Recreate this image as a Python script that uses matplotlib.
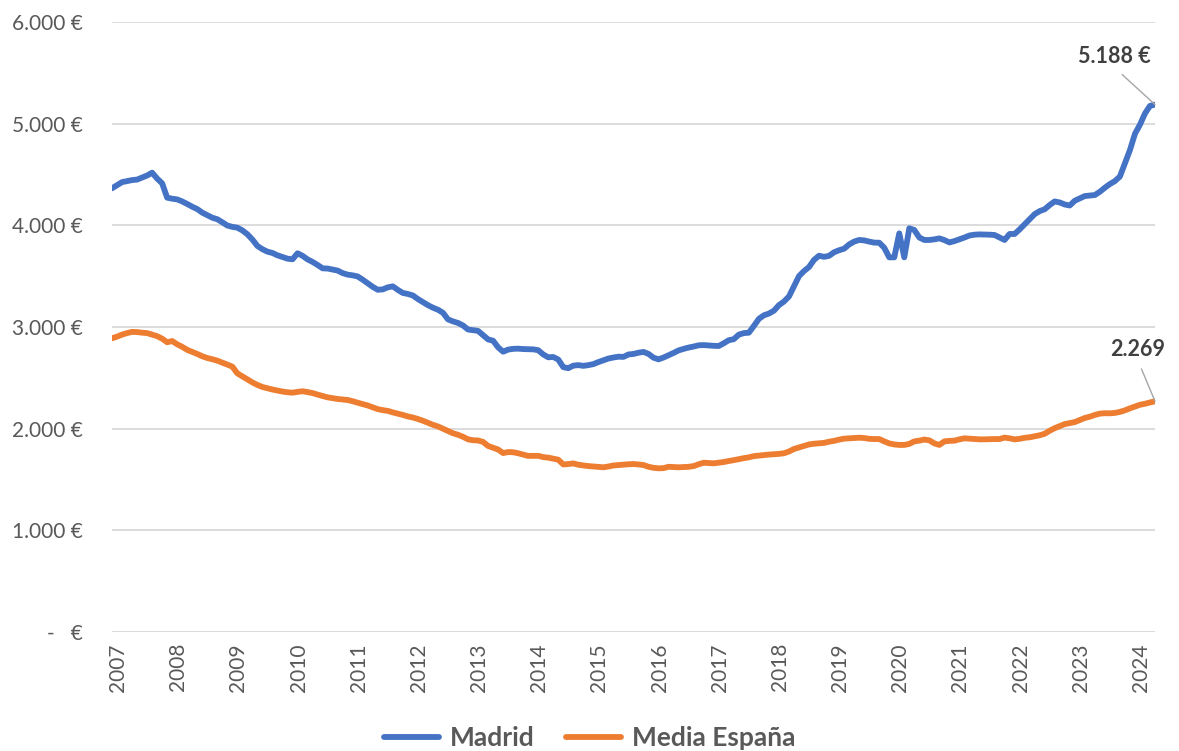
import matplotlib.pyplot as plt
from matplotlib.transforms import ScaledTranslation

plt.rcParams['font.family'] = ['Lato', 'DejaVu Sans']

# monthly series, Jan 2007 .. May 2024 (EUR/m2)
years = [str(y) for y in range(2007, 2025)]

madrid = [
    4364, 4395, 4425, 4435, 4445, 4450, 4470, 4490, 4518, 4460, 4413, 4272,  # 2007
    4262, 4255, 4235, 4210, 4183, 4160, 4125, 4100, 4075, 4060, 4030, 3998,  # 2008
    3985, 3977, 3950, 3912, 3860, 3797, 3765, 3741, 3728, 3705, 3688, 3672,  # 2009
    3666, 3725, 3700, 3665, 3640, 3610, 3577, 3575, 3565, 3555, 3530, 3515,  # 2010
    3508, 3497, 3465, 3430, 3395, 3366, 3370, 3390, 3400, 3365, 3335, 3325,  # 2011
    3310, 3275, 3245, 3215, 3190, 3170, 3140, 3075, 3055, 3040, 3015, 2975,  # 2012
    2968, 2962, 2920, 2878, 2865, 2800, 2757, 2778, 2785, 2787, 2783, 2781,  # 2013
    2780, 2772, 2730, 2702, 2705, 2680, 2605, 2595, 2620, 2625, 2618, 2625,  # 2014
    2635, 2655, 2672, 2690, 2700, 2708, 2706, 2730, 2735, 2747, 2755, 2735,  # 2015
    2698, 2682, 2700, 2722, 2745, 2770, 2785, 2798, 2808, 2820, 2822, 2818,  # 2016
    2815, 2813, 2840, 2870, 2880, 2925, 2940, 2944, 3010, 3080, 3115, 3132,  # 2017
    3160, 3215, 3250, 3300, 3400, 3500, 3550, 3590, 3660, 3701, 3690, 3700,  # 2018
    3735, 3755, 3770, 3812, 3840, 3856, 3852, 3840, 3830, 3829, 3780, 3685,  # 2019
    3685, 3921, 3685, 3971, 3954, 3880, 3856, 3856, 3862, 3872, 3855, 3832,  # 2020
    3845, 3862, 3880, 3900, 3908, 3911, 3910, 3908, 3905, 3880, 3856, 3915,  # 2021
    3915, 3960, 4010, 4060, 4110, 4140, 4158, 4200, 4235, 4225, 4205, 4195,  # 2022
    4242, 4265, 4288, 4293, 4298, 4330, 4370, 4406, 4435, 4480, 4610, 4740,  # 2023
    4900, 4990, 5100, 5175, 5188,                                            # 2024
]

media_espana = [
    2889, 2905, 2925, 2940, 2952, 2950, 2944, 2940, 2925, 2910, 2885, 2850,  # 2007
    2862, 2830, 2805, 2775, 2755, 2735, 2712, 2695, 2683, 2669, 2650, 2630,  # 2008
    2610, 2544, 2515, 2485, 2455, 2430, 2410, 2397, 2385, 2375, 2365, 2358,  # 2009
    2354, 2362, 2368, 2360, 2350, 2335, 2322, 2308, 2300, 2292, 2287, 2282,  # 2010
    2270, 2255, 2242, 2228, 2210, 2192, 2182, 2175, 2160, 2148, 2135, 2120,  # 2011
    2110, 2095, 2078, 2058, 2038, 2022, 2000, 1978, 1955, 1940, 1920, 1895,  # 2012
    1886, 1884, 1870, 1830, 1812, 1795, 1760, 1770, 1768, 1758, 1745, 1732,  # 2013
    1732, 1733, 1720, 1715, 1705, 1695, 1648, 1652, 1658, 1645, 1638, 1632,  # 2014
    1628, 1625, 1620, 1628, 1638, 1642, 1645, 1650, 1652, 1648, 1642, 1625,  # 2015
    1615, 1610, 1612, 1625, 1622, 1620, 1622, 1625, 1632, 1650, 1665, 1662,  # 2016
    1659, 1665, 1672, 1682, 1690, 1700, 1710, 1718, 1730, 1735, 1740, 1745,  # 2017
    1748, 1752, 1758, 1775, 1800, 1815, 1830, 1845, 1852, 1856, 1860, 1872,  # 2018
    1880, 1892, 1902, 1905, 1908, 1911, 1908, 1900, 1898, 1898, 1875, 1855,  # 2019
    1845, 1840, 1840, 1850, 1875, 1882, 1893, 1885, 1855, 1840, 1875, 1880,  # 2020
    1882, 1895, 1905, 1902, 1898, 1895, 1895, 1897, 1898, 1898, 1912, 1905,  # 2021
    1895, 1900, 1910, 1915, 1925, 1935, 1950, 1980, 2005, 2025, 2045, 2055,  # 2022
    2065, 2085, 2105, 2118, 2135, 2148, 2152, 2151, 2155, 2165, 2180, 2200,  # 2023
    2218, 2235, 2245, 2258, 2269,                                            # 2024
]

series_names = ['Madrid', 'Media España']
end_labels = ['5.188 €', '2.269']

ytick_values = [0, 1000, 2000, 3000, 4000, 5000, 6000]
ytick_labels = ['-   €', '1.000 €', '2.000 €', '3.000 €', '4.000 €', '5.000 €', '6.000 €']

BLUE = '#4472C4'
ORANGE = '#ED7D31'
TEXT = '#595959'
GRID = '#D9D9D9'

W, H = 1179, 751
fig = plt.figure(figsize=(W / 100, H / 100), dpi=100)
ax = fig.add_axes([112 / W, 1 - 632 / H, (1155 - 112) / W, (632 - 22) / H])

months = list(range(len(madrid)))
for vals, name, col in [(madrid, series_names[0], BLUE), (media_espana, series_names[1], ORANGE)]:
    ax.plot(months, vals, color=col, lw=4.2, label=name,
            solid_capstyle='round', solid_joinstyle='round', zorder=3)

ax.set_xlim(0, len(madrid) - 1)
ax.set_ylim(0, 6000)
ax.set_yticks(ytick_values, ytick_labels)
ax.set_xticks(range(0, len(madrid), 12), years)
ax.tick_params(axis='x', rotation=90, length=0, pad=8, labelsize=15, labelcolor=TEXT)
ax.tick_params(axis='y', length=0, pad=21, labelsize=15, labelcolor=TEXT)
# Excel draws the rotated year labels a few pixels right of the point
shift = ScaledTranslation(6 / 100, 0, fig.dpi_scale_trans)
for lab in ax.get_xticklabels():
    lab.set_transform(lab.get_transform() + shift)
ax.grid(axis='y', color=GRID, lw=1.3)
ax.set_axisbelow(True)
for s in ax.spines.values():
    s.set_visible(False)

# end-of-series labels with leader lines
arrow = dict(arrowstyle='-', color='#A6A6A6', lw=1.0, relpos=(0.5, 0), shrinkA=5, shrinkB=0)
ax.annotate(end_labels[0], xy=(months[-1], madrid[-1]), xytext=(-29.5, 34.5),
            textcoords='offset points', ha='center', va='center',
            fontsize=15.5, fontweight='bold', color='#404040', arrowprops=arrow)
ax.annotate(end_labels[1], xy=(months[-1], media_espana[-1]), xytext=(-12.5, 37.5),
            textcoords='offset points', ha='center', va='center',
            fontsize=15.5, fontweight='bold', color='#404040', arrowprops=arrow,
            annotation_clip=False)

leg = fig.legend(loc='center', bbox_to_anchor=(0.5, 1 - 738 / H), ncol=2, frameon=False,
                 handlelength=2.1, handletextpad=0.4, columnspacing=1.2,
                 prop={'size': 19, 'weight': 'bold'})
for t in leg.get_texts():
    t.set_color(TEXT)

fig.savefig('out.png', dpi=100)
